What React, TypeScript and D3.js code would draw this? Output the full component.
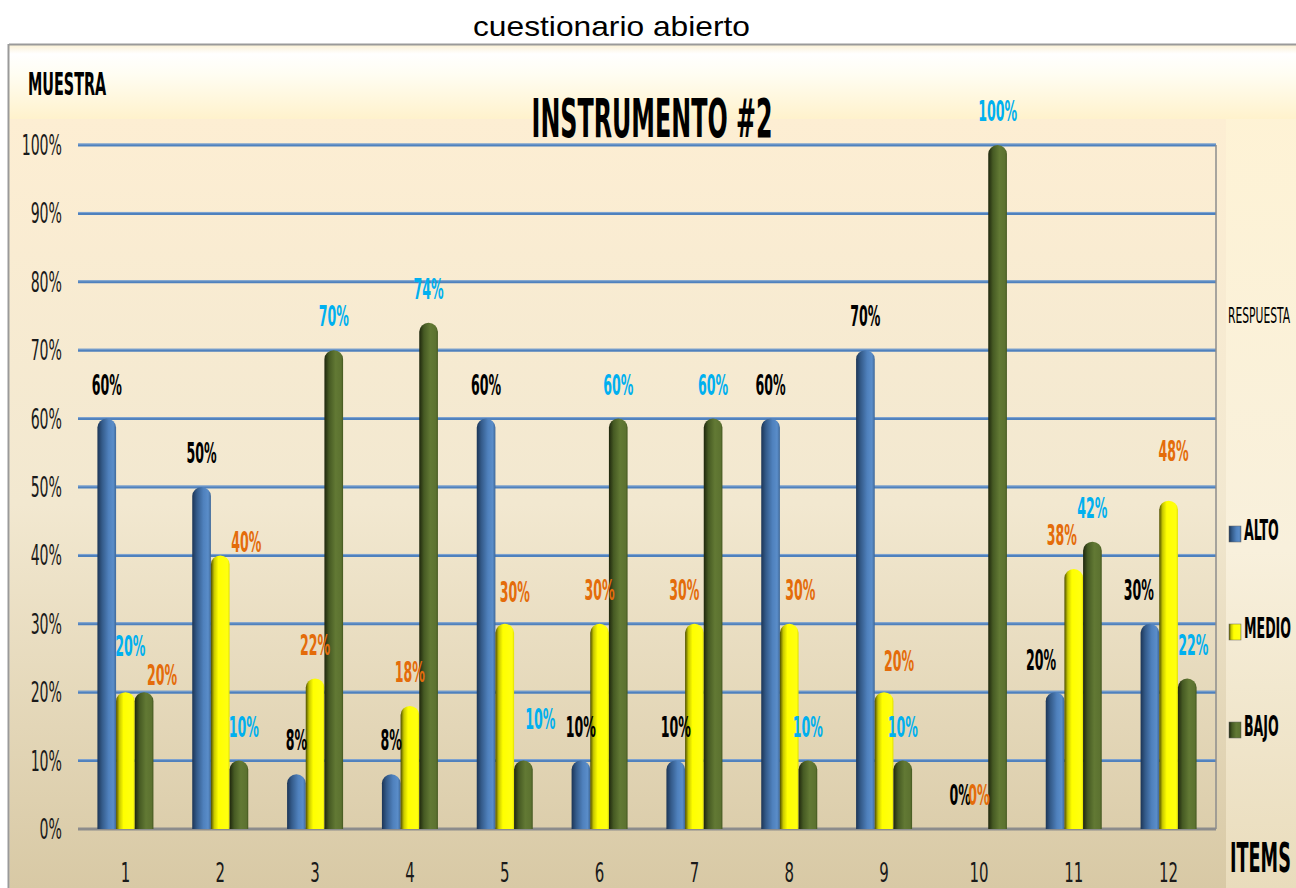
import React from 'react';
import * as d3 from 'd3';

const items = ['1', '2', '3', '4', '5', '6', '7', '8', '9', '10', '11', '12'];
const series = ['ALTO', 'MEDIO', 'BAJO'];
const alto = [60, 50, 8, 8, 60, 10, 10, 60, 70, 0, 20, 30];
const medio = [20, 40, 22, 18, 30, 30, 30, 30, 20, 0, 38, 48];
const bajo = [20, 10, 70, 74, 10, 60, 60, 10, 10, 100, 42, 22];
const yTicks = [0, 10, 20, 30, 40, 50, 60, 70, 80, 90, 100];

const BLACK = '#000000';
const ORANGE = '#e46c0a';
const CYAN = '#00b0f0';
// label colours as the source workbook had them (item 1 has medio/bajo swapped)
const labelColors: Record<string, string[]> = {
  ALTO: items.map(() => BLACK),
  MEDIO: items.map((_, i) => (i === 0 ? CYAN : ORANGE)),
  BAJO: items.map((_, i) => (i === 0 ? ORANGE : CYAN)),
};

// labels that were dragged by hand in the original sheet
const labelNudge: Record<string, [number, number]> = {
  '1-MEDIO': [5, -12],
  '1-BAJO': [18, 17],
  '2-MEDIO': [26, 21],
  '2-BAJO': [5, 0],
  '5-MEDIO': [10, 2],
  '5-BAJO': [17, -8],
  '7-MEDIO': [-10, 0],
  '8-MEDIO': [11, 0],
  '9-MEDIO': [15, 3],
  '11-ALTO': [-14, 2],
  '11-MEDIO': [-12, 0],
  '12-ALTO': [-11, 0],
  '12-MEDIO': [5, -16],
  '12-BAJO': [6, 0],
};

const W = 1296;
const H = 888;
const FONT = "'Liberation Sans Narrow', 'DejaVu Sans Condensed', sans-serif";

function CText({ x, y, size, weight = 'normal', fill = '#000', anchor = 'start', sx = 0.55, children }: any) {
  return (
    <text
      transform={`translate(${x},${y}) scale(${sx},1)`}
      fontSize={size}
      fontWeight={weight}
      fill={fill}
      textAnchor={anchor}
      fontFamily={FONT}
    >
      {children}
    </text>
  );
}

function barPath(x: number, w: number, top: number, base: number) {
  const h = base - top;
  const ch = Math.min(9, h);
  return `M${x},${base} V${top + ch} A${w / 2},${ch} 0 0 1 ${x + w},${top + ch} V${base} Z`;
}

export default function App() {
  const values: Record<string, number[]> = { ALTO: alto, MEDIO: medio, BAJO: bajo };

  const x0 = d3.scaleBand<string>().domain(items).range([78, 1216]).padding(0);
  const x1 = d3.scaleBand<string>().domain(series).range([-28, 28]).padding(0);
  const y = d3.scaleLinear().domain([0, 100]).range([829, 145]);
  const pct = d3.format('d');

  const fills: Record<string, string> = { ALTO: 'url(#gAlto)', MEDIO: 'url(#gMedio)', BAJO: 'url(#gBajo)' };

  return (
    <svg width={W} height={H} style={{ position: 'absolute', left: 0, top: 0, display: 'block' }}>
      <defs>
        <linearGradient id="gAlto" x1="0" x2="1" y1="0" y2="0">
          <stop offset="0" stopColor="#1c3556" />
          <stop offset="0.25" stopColor="#345b8a" />
          <stop offset="0.6" stopColor="#4f81bd" />
          <stop offset="0.85" stopColor="#5a8dc9" />
          <stop offset="1" stopColor="#3f6898" />
        </linearGradient>
        <linearGradient id="gMedio" x1="0" x2="1" y1="0" y2="0">
          <stop offset="0" stopColor="#4d4d00" />
          <stop offset="0.18" stopColor="#c9c900" />
          <stop offset="0.4" stopColor="#ffff00" />
          <stop offset="0.9" stopColor="#ffff10" />
          <stop offset="1" stopColor="#e0e000" />
        </linearGradient>
        <linearGradient id="gBajo" x1="0" x2="1" y1="0" y2="0">
          <stop offset="0" stopColor="#1e260d" />
          <stop offset="0.25" stopColor="#465a23" />
          <stop offset="0.6" stopColor="#627934" />
          <stop offset="0.9" stopColor="#5c7230" />
          <stop offset="1" stopColor="#43561f" />
        </linearGradient>
        <linearGradient id="gTop" x1="0" x2="0" y1="0" y2="1">
          <stop offset="0" stopColor="#fbf1d6" />
          <stop offset="0.12" stopColor="#ffffff" />
          <stop offset="0.4" stopColor="#fffdf2" />
          <stop offset="1" stopColor="#fff2cc" />
        </linearGradient>
        <linearGradient id="gPanel" x1="0" x2="0" y1="0" y2="1">
          <stop offset="0" stopColor="#fdeed3" />
          <stop offset="0.5" stopColor="#f2e8d0" />
          <stop offset="1" stopColor="#d8c9a5" />
        </linearGradient>
        <linearGradient id="gRight" x1="0" x2="0" y1="0" y2="1">
          <stop offset="0" stopColor="#fff3d4" />
          <stop offset="0.6" stopColor="#f8f0dc" />
          <stop offset="1" stopColor="#e9dcbc" />
        </linearGradient>
      </defs>

      <rect x={0} y={0} width={W} height={H} fill="#ffffff" />
      <text
        x={473}
        y={36}
        textLength={277}
        lengthAdjust="spacingAndGlyphs"
        fontSize={28}
        fontFamily="'Liberation Sans', Arial, sans-serif"
        fill="#000"
      >
        cuestionario abierto
      </text>

      {/* chart area */}
      <rect x={9} y={45} width={W - 9} height={H - 45} fill="url(#gRight)" />
      <rect x={9} y={45} width={W - 9} height={74} fill="url(#gTop)" />
      <rect x={10} y={119} width={1216} height={H - 119} fill="url(#gPanel)" />
      <line x1={9} x2={W} y1={44.5} y2={44.5} stroke="#9a9a9a" strokeWidth={2} />
      <line x1={8.5} x2={8.5} y1={44} y2={H} stroke="#9a9a9a" strokeWidth={2} />

      {/* gridlines */}
      {yTicks.filter((t) => t > 0).map((t) => (
        <g key={t}>
          <line x1={78} x2={1216} y1={y(t)} y2={y(t)} stroke="#4f81bd" strokeWidth={3} />
          <line x1={78} x2={1216} y1={y(t) - 1} y2={y(t) - 1} stroke="#8fb0d8" strokeWidth={0.8} />
        </g>
      ))}
      <line x1={1216} x2={1216} y1={y(100)} y2={y(0)} stroke="#8c8c8c" strokeWidth={1.5} />
      <line x1={78} x2={1216} y1={y(0)} y2={y(0)} stroke="#8c8c8c" strokeWidth={3} />

      {/* y tick labels */}
      {yTicks.map((t) => (
        <CText key={t} x={62} y={y(t) + 10} size={28} sx={0.56} anchor="end" fill="#1a1a1a">
          {pct(t)}%
        </CText>
      ))}

      {/* bars */}
      {items.map((it, i) => (
        <g key={it}>
          {series.map((s) => {
            const v = values[s][i];
            if (v <= 0) return null;
            const bx = (x0(it) as number) + x0.bandwidth() / 2 + (x1(s) as number);
            return <path key={s} d={barPath(bx, x1.bandwidth(), y(v), y(0))} fill={fills[s]} />;
          })}
        </g>
      ))}

      {/* value labels */}
      {items.map((it, i) => (
        <g key={'l' + it}>
          {series.map((s) => {
            const v = values[s][i];
            const [dx, dy] = labelNudge[`${it}-${s}`] || [0, 0];
            const cx = (x0(it) as number) + x0.bandwidth() / 2 + (x1(s) as number) + x1.bandwidth() / 2;
            return (
              <CText
                key={s}
                x={cx + dx}
                y={y(v) - 24 + dy}
                size={28}
                sx={0.5}
                weight="bold"
                anchor="middle"
                fill={labelColors[s][i]}
              >
                {pct(v)}%
              </CText>
            );
          })}
        </g>
      ))}

      {/* x labels */}
      {items.map((it) => (
        <CText key={'x' + it} x={(x0(it) as number) + x0.bandwidth() / 2} y={882} size={26} sx={0.64} anchor="middle" fill="#1a1a1a">
          {it}
        </CText>
      ))}

      {/* titles */}
      <CText x={28} y={95} size={32} sx={0.5} weight="bold">MUESTRA</CText>
      <CText x={652} y={137} size={54} sx={0.49} weight="bold" anchor="middle">INSTRUMENTO #2</CText>
      <CText x={1230} y={872} size={40} sx={0.49} weight="bold">ITEMS</CText>
      <CText x={1228} y={323} size={21} sx={0.57}>RESPUESTA</CText>

      {/* legend */}
      {series.map((s, i) => (
        <g key={'lg' + s}>
          <rect x={1229} y={526 + i * 98} width={12} height={16} fill={fills[s]} stroke="#666" strokeWidth={0.5} />
          <CText x={1244} y={540 + i * 98} size={28} sx={0.5} weight="bold">{s}</CText>
        </g>
      ))}
    </svg>
  );
}
